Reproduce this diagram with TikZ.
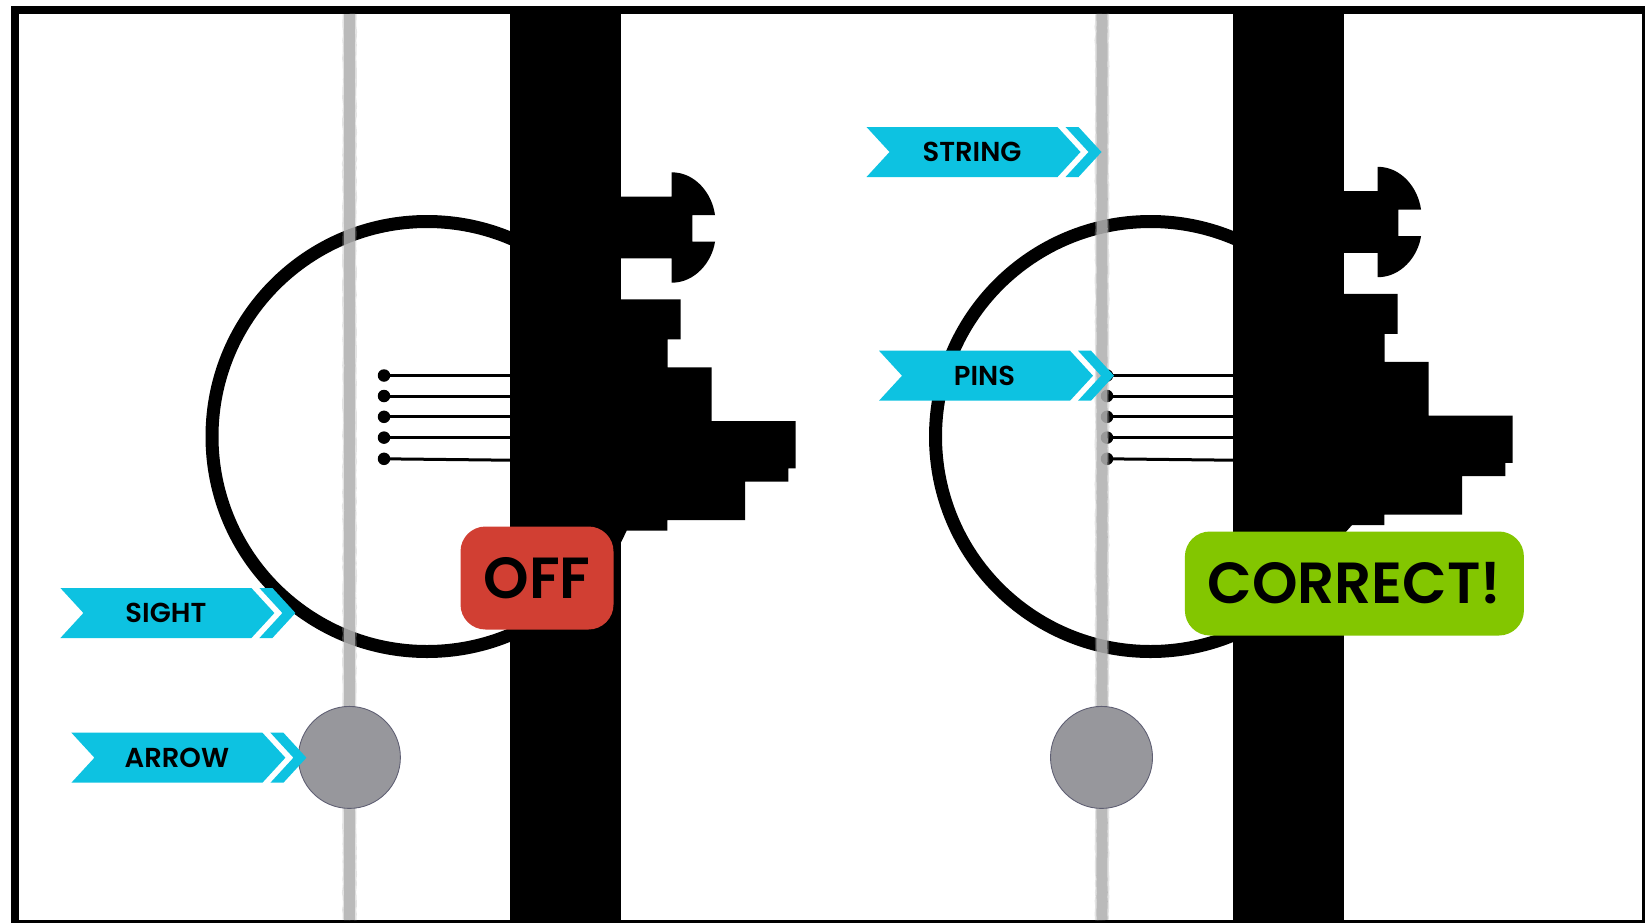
\documentclass[tikz,border=0pt]{standalone}
\usepackage{fontspec}
\usepackage{tikz}
\usetikzlibrary{decorations.pathmorphing}
\setmainfont{Poppins}[UprightFont=* SemiBold]
\definecolor{ribboncyan}{HTML}{0DC2E1}
\definecolor{offred}{HTML}{D13F33}
\definecolor{okgreen}{HTML}{83C600}
\definecolor{stringgrey}{HTML}{B0B0B0}
\definecolor{arrowgrey}{HTML}{97979C}
\definecolor{arrowedge}{HTML}{5F5F73}

% one label: name, left x, middle y, text
\newcommand{\ribbon}[4]{
\begin{scope}[shift={(#2,#3)}]
\fill[ribboncyan] (0,-25) -- (191,-25) -- (214,0) -- (191,25) -- (0,25) -- (23,0) -- cycle;
\fill[ribboncyan] (199,-25) -- (212,-25) -- (235,0) -- (212,25) -- (199,25) -- (222,0) -- cycle;
\node[ribbontext] (#1) at (105.5,0) {#4};
\end{scope}
}
% the bolt on the riser
\newcommand{\boltshape}{(600,196.7) -- (671.7,196.7) -- (671.7,172.3) .. controls (695,172.3) and (712,193) .. (715,215) -- (692.3,215) -- (692.3,241.7) -- (715,241.7) .. controls (712,262) and (695,282.7) .. (671.7,282.7) -- (671.7,258.3) -- (600,258.3) -- cycle}
% the block on the riser
\newcommand{\blockshape}{(600,299.3) -- (680.7,299.3) -- (680.7,339.3) -- (667.7,339.3) -- (667.7,367.3) -- (711.7,367.3) -- (711.7,421) -- (795.7,421) -- (795.7,468.3) -- (788.3,468.3) -- (788.3,481.7) -- (745,481.7) -- (745,520) -- (667.3,520) -- (667.3,530.7) -- (626.7,530.7) -- (620.7,543) -- (600,543) -- cycle}

\begin{document}
\begin{tikzpicture}[x=0.02cm,y=-0.02cm]

\tikzset{ringline/.style={line width=13*0.02cm,draw=black},
pinline/.style={line width=3*0.02cm,draw=black},
pindot/.style={fill=black,inner sep=0pt,minimum size=12.5*0.02cm,shape=circle},
stringline/.style={line width=11*0.02cm,draw=stringgrey,opacity=.8,decorate,decoration={random steps,segment length=2.5pt,amplitude=.15pt}},
stringedge/.style={line width=14*0.02cm,draw=stringgrey,opacity=.35,decorate,decoration={random steps,segment length=2.5pt,amplitude=.3pt}},
arrowdot/.style={fill=arrowgrey,draw=arrowedge,line width=.5pt,inner sep=0pt,minimum size=102*0.02cm,shape=circle},
ribbontext/.style={font=\fontsize{15.6pt}{18pt}\selectfont,text=black,inner sep=0pt},
badge/.style={font=\fontsize{33pt}{36pt}\selectfont,text=black,inner sep=0pt,rounded corners=25*0.02cm,shape=rectangle}}

\pgfmathsetseed{7}
\useasboundingbox (0,0) rectangle (1645,923);

% Frame
\fill[black] (11,6) rectangle (1645,923);
\fill[white] (19,14) rectangle (1642,920);

% Sight rings
\coordinate (ringL) at (427,436.5);
\coordinate (ringR) at (1150.5,436.5);
\begin{scope}
\clip (19,14) rectangle (515,920);
\draw[ringline] (ringL) circle (215);
\end{scope}
\begin{scope}
\clip (19,14) rectangle (1238,920);
\draw[ringline] (ringR) circle (215);
\end{scope}

% Pins
\foreach \i/\y/\z in {1/375.5/375.5,2/396/396,3/416.8/416.8,4/437.6/437.6,5/458.8/460.2} {
\node[pindot] (pinL\i) at (384,\y) {};
\coordinate (barL\i) at (510,\z);
\draw[pinline] (pinL\i.center) -- (barL\i);
\node[pindot] (pinR\i) at (1107,\y) {};
\coordinate (barR\i) at (1233,\z);
\draw[pinline] (pinR\i.center) -- (barR\i);
}

% Risers
\fill[black] (510,14) rectangle (620.7,920);
\fill[black] (1233,14) rectangle (1344,920);

% Bolts and blocks
\fill[black] \boltshape;
\fill[black] \blockshape;
\begin{scope}[shift={(706,-5.5)}]
\fill[black] \boltshape;
\end{scope}
\begin{scope}[shift={(717,-5.5)}]
\fill[black] \blockshape;
\end{scope}
\fill[black] (1340,525) -- (1352,525) -- (1344,534) -- (1340,534) -- cycle;

% Strings and arrows
\coordinate (stringLtop) at (349.5,14);
\coordinate (stringLbot) at (349.5,920);
\coordinate (stringRtop) at (1102,14);
\coordinate (stringRbot) at (1102,920);
\draw[stringedge] (stringLtop) -- (stringLbot);
\draw[stringline] (stringLtop) -- (stringLbot);
\draw[stringedge] (stringRtop) -- (stringRbot);
\draw[stringline] (stringRtop) -- (stringRbot);
\node[arrowdot] (arrowL) at (349.4,757.4) {};
\node[arrowdot] (arrowR) at (1101.5,757.4) {};

% Labels
\ribbon{sight}{60.4}{613}{SIGHT}
\ribbon{arrow}{71.4}{757.7}{ARROW}
\ribbon{string}{866.5}{152}{STRING}
\ribbon{pins}{879}{375.7}{PINS}

% Verdicts
\node[badge,fill=offred,minimum width=153*0.02cm,minimum height=103*0.02cm] (off) at (537,578) {OFF};
\node[badge,fill=okgreen,minimum width=339*0.02cm,minimum height=104*0.02cm] (correct) at (1354.4,583.5) {CORRECT!};

\end{tikzpicture}
\end{document}
